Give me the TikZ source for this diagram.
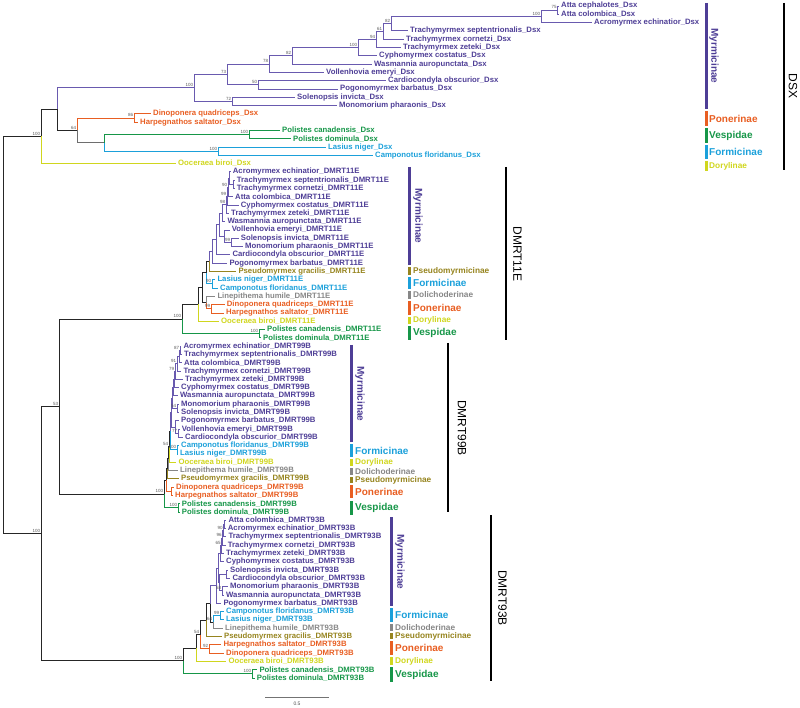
\documentclass[tikz,border=0pt]{standalone}
\usepackage{fontspec}
\setmainfont{Liberation Sans}
\definecolor{cMy}{RGB}{78,62,150}
\definecolor{cMyL}{RGB}{105,90,175}
\definecolor{cPo}{RGB}{232,94,34}
\definecolor{cVe}{RGB}{22,150,72}
\definecolor{cFo}{RGB}{27,160,218}
\definecolor{cDo}{RGB}{208,214,30}
\definecolor{cPs}{RGB}{150,132,30}
\definecolor{cDl}{RGB}{135,135,135}
\definecolor{cGr}{RGB}{110,110,110}
\newcommand\bsv[3]{\node[bs] (#1) at ([xshift=-0.7pt,yshift=0.9pt]#2) {#3};}
\begin{document}
\begin{tikzpicture}[x=1pt,y=-1pt,
  declare function={ty(\i)=6+\i*8.296;},
  br/.style={line width=0.9pt},
  eMy/.style={br,draw=cMyL}, ePo/.style={br,draw=cPo}, eVe/.style={br,draw=cVe},
  eFo/.style={br,draw=cFo}, eDo/.style={br,draw=cDo}, ePs/.style={br,draw=cPs},
  eDl/.style={br,draw=cDl}, eBk/.style={br,draw=black!85}, eGr/.style={br,draw=cGr},
  tip/.style={anchor=west,inner xsep=2pt,inner ysep=0pt,font=\fontsize{7.75}{8}\selectfont\bfseries},
  tMy/.style={tip,text=cMy}, tPo/.style={tip,text=cPo}, tVe/.style={tip,text=cVe},
  tFo/.style={tip,text=cFo}, tDo/.style={tip,text=cDo}, tPs/.style={tip,text=cPs},
  tDl/.style={tip,text=cDl},
  bs/.style={anchor=south east,inner sep=0pt,font=\fontsize{4.5}{5}\selectfont,text=black!65},
  legbar/.style={line width=3pt},
  bigbar/.style={line width=2.6pt,draw=black},
  legbig/.style={anchor=west,inner sep=0pt,font=\fontsize{10}{11}\selectfont\bfseries},
  legsmall/.style={anchor=west,inner sep=0pt,font=\fontsize{8.3}{9}\selectfont\bfseries},
  legrot/.style={rotate=-90,inner sep=0pt,font=\fontsize{10}{11}\selectfont\bfseries},
  generot/.style={rotate=-90,inner sep=0pt,font=\fontsize{12}{13}\selectfont}
]
\useasboundingbox (0,0) rectangle (800,708);

% ================= Dsx =================
\node[tMy] (d0) at (559,{ty(0)}) {Atta cephalotes\_Dsx};
\node[tMy] (d1) at (559,{ty(1)}) {Atta colombica\_Dsx};
\node[tMy] (d2) at (592,{ty(2)}) {Acromyrmex echinatior\_Dsx};
\node[tMy] (d3) at (408,{ty(3)}) {Trachymyrmex septentrionalis\_Dsx};
\node[tMy] (d4) at (404,{ty(4)}) {Trachymyrmex cornetzi\_Dsx};
\node[tMy] (d5) at (401,{ty(5)}) {Trachymyrmex zeteki\_Dsx};
\node[tMy] (d6) at (377,{ty(6)}) {Cyphomyrmex costatus\_Dsx};
\node[tMy] (d7) at (372,{ty(7)}) {Wasmannia auropunctata\_Dsx};
\node[tMy] (d8) at (324,{ty(8)}) {Vollenhovia emeryi\_Dsx};
\node[tMy] (d9) at (386,{ty(9)}) {Cardiocondyla obscurior\_Dsx};
\node[tMy] (d10) at (338,{ty(10)}) {Pogonomyrmex barbatus\_Dsx};
\node[tMy] (d11) at (295,{ty(11)}) {Solenopsis invicta\_Dsx};
\node[tMy] (d12) at (337,{ty(12)}) {Monomorium pharaonis\_Dsx};
\node[tPo] (d13) at (151,{ty(13)}) {Dinoponera quadriceps\_Dsx};
\node[tPo] (d14) at (138,{ty(14)}) {Harpegnathos saltator\_Dsx};
\node[tVe] (d15) at (280,{ty(15)}) {Polistes canadensis\_Dsx};
\node[tVe] (d16) at (291,{ty(16)}) {Polistes dominula\_Dsx};
\node[tFo] (d17) at (326,{ty(17)}) {Lasius niger\_Dsx};
\node[tFo] (d18) at (373,{ty(18)}) {Camponotus floridanus\_Dsx};
\node[tDo] (d19) at (176,{ty(19)}) {Ooceraea biroi\_Dsx};

\coordinate (N75) at (557.5,{ty(0.5)});
\coordinate (N100a) at (541,{ty(1.25)});
\coordinate (N82b) at (391,{ty(2.125)});
\coordinate (N61) at (383,{ty(3.0625)});
\coordinate (N94) at (376,{ty(4.031)});
\coordinate (N100b) at (358,{ty(5.016)});
\coordinate (N82) at (292,{ty(6.008)});
\coordinate (N78) at (269,{ty(7.004)});
\coordinate (N50) at (258,{ty(9.5)});
\coordinate (N73) at (227,{ty(8.252)});
\coordinate (N72) at (232,{ty(11.5)});
\coordinate (N100c) at (194,{ty(9.876)});
\coordinate (N86) at (134,{ty(13.5)});
\coordinate (N100d) at (249,{ty(15.5)});
\coordinate (N100e) at (218,{ty(17.5)});
\coordinate (Nvf) at (104,{ty(16.5)});
\coordinate (N64) at (77,{ty(15)});
\coordinate (Nd1) at (57,{ty(12.438)});
\coordinate (Nd0) at (41,{ty(15.719)});

\draw[eMy] (N75) |- (d0.west); \draw[eMy] (N75) |- (d1.west);
\draw[eMy] (N100a) |- (N75); \draw[eMy] (N100a) |- (d2.west);
\draw[eMy] (N82b) |- (N100a); \draw[eMy] (N82b) |- (d3.west);
\draw[eMy] (N61) |- (N82b); \draw[eMy] (N61) |- (d4.west);
\draw[eMy] (N94) |- (N61); \draw[eMy] (N94) |- (d5.west);
\draw[eMy] (N100b) |- (N94); \draw[eMy] (N100b) |- (d6.west);
\draw[eMy] (N82) |- (N100b); \draw[eMy] (N82) |- (d7.west);
\draw[eMy] (N78) |- (N82); \draw[eMy] (N78) |- (d8.west);
\draw[eMy] (N50) |- (d9.west); \draw[eMy] (N50) |- (d10.west);
\draw[eMy] (N73) |- (N78); \draw[eMy] (N73) |- (N50);
\draw[eMy] (N72) |- (d11.west); \draw[eMy] (N72) |- (d12.west);
\draw[eMy] (N100c) |- (N73); \draw[eMy] (N100c) |- (N72);
\draw[ePo] (N86) |- (d13.west); \draw[ePo] (N86) |- (d14.west);
\draw[eVe] (N100d) |- (d15.west); \draw[eVe] (N100d) |- (d16.west);
\draw[eFo] (N100e) |- (d17.west); \draw[eFo] (N100e) |- (d18.west);
\draw[eVe] (Nvf) |- (N100d); \draw[eFo] (Nvf) |- (N100e);
\draw[ePo] (N64) |- (N86); \draw[eGr] (N64) |- (Nvf);
\draw[eMy] (Nd1) |- (N100c); \draw[eBk] (Nd1) |- (N64);
\draw[eBk] (Nd0) |- (Nd1); \draw[eDo] (Nd0) |- (d19.west);

\bsv{b1}{N75}{75} \bsv{b2}{N100a}{100} \bsv{b3}{N82b}{82} \bsv{b4}{N61}{61}
\bsv{b5}{N94}{94} \bsv{b6}{N100b}{100} \bsv{b7}{N82}{82} \bsv{b8}{N78}{78}
\bsv{b9}{N50}{50} \bsv{b10}{N73}{73} \bsv{b11}{N72}{72} \bsv{b12}{N100c}{100}
\bsv{b13}{N86}{86} \bsv{b14}{N100d}{100} \bsv{b15}{N100e}{100} \bsv{b16}{N64}{64}
\bsv{b17}{Nd0}{100}

% ================= DMRT11E =================
\node[tMy] (d20) at (230.7,{ty(20)}) {Acromyrmex echinatior\_DMRT11E};
\node[tMy] (d21) at (234.7,{ty(21)}) {Trachymyrmex septentrionalis\_DMRT11E};
\node[tMy] (d22) at (234.7,{ty(22)}) {Trachymyrmex cornetzi\_DMRT11E};
\node[tMy] (d23) at (233,{ty(23)}) {Atta colombica\_DMRT11E};
\node[tMy] (d24) at (238.7,{ty(24)}) {Cyphomyrmex costatus\_DMRT11E};
\node[tMy] (d25) at (229,{ty(25)}) {Trachymyrmex zeteki\_DMRT11E};
\node[tMy] (d26) at (225.3,{ty(26)}) {Wasmannia auropunctata\_DMRT11E};
\node[tMy] (d27) at (229.7,{ty(27)}) {Vollenhovia emeryi\_DMRT11E};
\node[tMy] (d28) at (238.7,{ty(28)}) {Solenopsis invicta\_DMRT11E};
\node[tMy] (d29) at (243,{ty(29)}) {Monomorium pharaonis\_DMRT11E};
\node[tMy] (d30) at (230.3,{ty(30)}) {Cardiocondyla obscurior\_DMRT11E};
\node[tMy] (d31) at (227.3,{ty(31)}) {Pogonomyrmex barbatus\_DMRT11E};
\node[tPs] (d32) at (236.3,{ty(32)}) {Pseudomyrmex gracilis\_DMRT11E};
\node[tFo] (d33) at (215.3,{ty(33)}) {Lasius niger\_DMRT11E};
\node[tFo] (d34) at (218,{ty(34)}) {Camponotus floridanus\_DMRT11E};
\node[tDl] (d35) at (215.3,{ty(35)}) {Linepithema humile\_DMRT11E};
\node[tPo] (d36) at (224.7,{ty(36)}) {Dinoponera quadriceps\_DMRT11E};
\node[tPo] (d37) at (224,{ty(37)}) {Harpegnathos saltator\_DMRT11E};
\node[tDo] (d38) at (219,{ty(38)}) {Ooceraea biroi\_DMRT11E};
\node[tVe] (d39) at (265,{ty(39)}) {Polistes canadensis\_DMRT11E};
\node[tVe] (d40) at (261,{ty(40)}) {Polistes dominula\_DMRT11E};

\coordinate (m1) at (233,{ty(21.5)});
\coordinate (m2) at (229.5,{ty(20.75)});
\coordinate (m3) at (228,{ty(21.875)});
\coordinate (m4) at (227,{ty(22.9375)});
\coordinate (m5) at (226,{ty(23.969)});
\coordinate (m6) at (222,{ty(24.984)});
\coordinate (m7) at (231,{ty(28.5)});
\coordinate (m8) at (224,{ty(27.75)});
\coordinate (m9) at (219,{ty(26.367)});
\coordinate (m10) at (216,{ty(28.184)});
\coordinate (m11) at (212,{ty(29.592)});
\coordinate (m12) at (209,{ty(30.796)});
\coordinate (f1) at (212,{ty(33.5)});
\coordinate (m13) at (206,{ty(32.148)});
\coordinate (p1) at (211,{ty(36.5)});
\coordinate (p2) at (206,{ty(35.75)});
\coordinate (m14) at (202,{ty(33.949)});
\coordinate (m15) at (198,{ty(35.975)});
\coordinate (v1) at (259,{ty(39.5)});
\coordinate (R11) at (182,{ty(37.737)});

\draw[eMy] (m1) |- (d21.west); \draw[eMy] (m1) |- (d22.west);
\draw[eMy] (m2) |- (d20.west); \draw[eMy] (m2) |- (m1);
\draw[eMy] (m3) |- (m2); \draw[eMy] (m3) |- (d23.west);
\draw[eMy] (m4) |- (m3); \draw[eMy] (m4) |- (d24.west);
\draw[eMy] (m5) |- (m4); \draw[eMy] (m5) |- (d25.west);
\draw[eMy] (m6) |- (m5); \draw[eMy] (m6) |- (d26.west);
\draw[eMy] (m7) |- (d28.west); \draw[eMy] (m7) |- (d29.west);
\draw[eMy] (m8) |- (d27.west); \draw[eMy] (m8) |- (m7);
\draw[eMy] (m9) |- (m6); \draw[eMy] (m9) |- (m8);
\draw[eMy] (m10) |- (m9); \draw[eMy] (m10) |- (d30.west);
\draw[eMy] (m11) |- (m10); \draw[eMy] (m11) |- (d31.west);
\draw[eMy] (m12) |- (m11); \draw[ePs] (m12) |- (d32.west);
\draw[eFo] (f1) |- (d33.west); \draw[eFo] (f1) |- (d34.west);
\draw[eBk] (m13) |- (m12); \draw[eFo] (m13) |- (f1);
\draw[ePo] (p1) |- (d36.west); \draw[ePo] (p1) |- (d37.west);
\draw[eDl] (p2) |- (d35.west); \draw[ePo] (p2) |- (p1);
\draw[eBk] (m14) |- (m13); \draw[eBk] (m14) |- (p2);
\draw[eBk] (m15) |- (m14); \draw[eDo] (m15) |- (d38.west);
\draw[eVe] (v1) |- (d39.west); \draw[eVe] (v1) |- (d40.west);
\draw[eBk] (R11) |- (m15); \draw[eVe] (R11) |- (v1);

\bsv{b18}{m3}{90} \bsv{b19}{m4}{99} \bsv{b20}{m5}{98} \bsv{b21}{m7}{99}
\bsv{b22}{f1}{90} \bsv{b23}{p1}{99} \bsv{b24}{v1}{100} \bsv{b25}{R11}{100}

% ================= DMRT99B =================
\node[tMy] (d41) at (181.3,{ty(41)}) {Acromyrmex echinatior\_DMRT99B};
\node[tMy] (d42) at (182,{ty(42)}) {Trachymyrmex septentrionalis\_DMRT99B};
\node[tMy] (d43) at (182,{ty(43)}) {Atta colombica\_DMRT99B};
\node[tMy] (d44) at (181.3,{ty(44)}) {Trachymyrmex cornetzi\_DMRT99B};
\node[tMy] (d45) at (183,{ty(45)}) {Trachymyrmex zeteki\_DMRT99B};
\node[tMy] (d46) at (179,{ty(46)}) {Cyphomyrmex costatus\_DMRT99B};
\node[tMy] (d47) at (178,{ty(47)}) {Wasmannia auropunctata\_DMRT99B};
\node[tMy] (d48) at (179,{ty(48)}) {Monomorium pharaonis\_DMRT99B};
\node[tMy] (d49) at (179,{ty(49)}) {Solenopsis invicta\_DMRT99B};
\node[tMy] (d50) at (179,{ty(50)}) {Pogonomyrmex barbatus\_DMRT99B};
\node[tMy] (d51) at (179.7,{ty(51)}) {Vollenhovia emeryi\_DMRT99B};
\node[tMy] (d52) at (183,{ty(52)}) {Cardiocondyla obscurior\_DMRT99B};
\node[tFo] (d53) at (179,{ty(53)}) {Camponotus floridanus\_DMRT99B};
\node[tFo] (d54) at (178,{ty(54)}) {Lasius niger\_DMRT99B};
\node[tDo] (d55) at (176.3,{ty(55)}) {Ooceraea biroi\_DMRT99B};
\node[tDl] (d56) at (178,{ty(56)}) {Linepithema humile\_DMRT99B};
\node[tPs] (d57) at (179,{ty(57)}) {Pseudomyrmex gracilis\_DMRT99B};
\node[tPo] (d58) at (174,{ty(58)}) {Dinoponera quadriceps\_DMRT99B};
\node[tPo] (d59) at (173,{ty(59)}) {Harpegnathos saltator\_DMRT99B};
\node[tVe] (d60) at (179.7,{ty(60)}) {Polistes canadensis\_DMRT99B};
\node[tVe] (d61) at (179.7,{ty(61)}) {Polistes dominula\_DMRT99B};

\coordinate (q1) at (180,{ty(41.5)});
\coordinate (q2) at (179,{ty(42.25)});
\coordinate (q3) at (177,{ty(43.125)});
\coordinate (q4) at (175,{ty(44.0625)});
\coordinate (q5) at (174,{ty(45.031)});
\coordinate (q6) at (173,{ty(46.016)});
\coordinate (q7) at (177,{ty(48.5)});
\coordinate (q8) at (172,{ty(47.258)});
\coordinate (q9) at (178,{ty(51.5)});
\coordinate (q10) at (175,{ty(50.75)});
\coordinate (q11) at (171,{ty(49.004)});
\coordinate (c1) at (177,{ty(53.5)});
\coordinate (q12) at (170,{ty(51.252)});
\coordinate (q13) at (169,{ty(53.126)});
\coordinate (q14) at (168,{ty(54.563)});
\coordinate (q15) at (167,{ty(55.782)});
\coordinate (p3) at (171.5,{ty(58.5)});
\coordinate (q16) at (166,{ty(57.141)});
\coordinate (v2) at (178,{ty(60.5)});
\coordinate (R99) at (164,{ty(58.82)});

\draw[eMy] (q1) |- (d41.west); \draw[eMy] (q1) |- (d42.west);
\draw[eMy] (q2) |- (q1); \draw[eMy] (q2) |- (d43.west);
\draw[eMy] (q3) |- (q2); \draw[eMy] (q3) |- (d44.west);
\draw[eMy] (q4) |- (q3); \draw[eMy] (q4) |- (d45.west);
\draw[eMy] (q5) |- (q4); \draw[eMy] (q5) |- (d46.west);
\draw[eMy] (q6) |- (q5); \draw[eMy] (q6) |- (d47.west);
\draw[eMy] (q7) |- (d48.west); \draw[eMy] (q7) |- (d49.west);
\draw[eMy] (q8) |- (q6); \draw[eMy] (q8) |- (q7);
\draw[eMy] (q9) |- (d51.west); \draw[eMy] (q9) |- (d52.west);
\draw[eMy] (q10) |- (d50.west); \draw[eMy] (q10) |- (q9);
\draw[eMy] (q11) |- (q8); \draw[eMy] (q11) |- (q10);
\draw[eFo] (c1) |- (d53.west); \draw[eFo] (c1) |- (d54.west);
\draw[eMy] (q12) |- (q11); \draw[eFo] (q12) |- (c1);
\draw[eBk] (q13) |- (q12); \draw[eDo] (q13) |- (d55.west);
\draw[eBk] (q14) |- (q13); \draw[eDl] (q14) |- (d56.west);
\draw[eBk] (q15) |- (q14); \draw[ePs] (q15) |- (d57.west);
\draw[ePo] (p3) |- (d58.west); \draw[ePo] (p3) |- (d59.west);
\draw[eBk] (q16) |- (q15); \draw[ePo] (q16) |- (p3);
\draw[eVe] (v2) |- (d60.west); \draw[eVe] (v2) |- (d61.west);
\draw[eBk] (R99) |- (q16); \draw[eVe] (R99) |- (v2);

\bsv{b26}{q1}{87} \bsv{b27}{q3}{91} \bsv{b28}{q4}{79} \bsv{b29}{q7}{54}
\bsv{b30}{q9}{77} \bsv{b31}{c1}{100} \bsv{b32}{q13}{54} \bsv{b33}{R99}{100}
\bsv{b34}{v2}{100}

% ================= DMRT93B =================
\node[tMy] (d62) at (226.3,{ty(62)}) {Atta colombica\_DMRT93B};
\node[tMy] (d63) at (225.7,{ty(63)}) {Acromyrmex echinatior\_DMRT93B};
\node[tMy] (d64) at (226.3,{ty(64)}) {Trachymyrmex septentrionalis\_DMRT93B};
\node[tMy] (d65) at (225.7,{ty(65)}) {Trachymyrmex cornetzi\_DMRT93B};
\node[tMy] (d66) at (224,{ty(66)}) {Trachymyrmex zeteki\_DMRT93B};
\node[tMy] (d67) at (224,{ty(67)}) {Cyphomyrmex costatus\_DMRT93B};
\node[tMy] (d68) at (228,{ty(68)}) {Solenopsis invicta\_DMRT93B};
\node[tMy] (d69) at (230.3,{ty(69)}) {Cardiocondyla obscurior\_DMRT93B};
\node[tMy] (d70) at (228,{ty(70)}) {Monomorium pharaonis\_DMRT93B};
\node[tMy] (d71) at (224,{ty(71)}) {Wasmannia auropunctata\_DMRT93B};
\node[tMy] (d72) at (221.3,{ty(72)}) {Pogonomyrmex barbatus\_DMRT93B};
\node[tFo] (d73) at (224,{ty(73)}) {Camponotus floridanus\_DMRT93B};
\node[tFo] (d74) at (224,{ty(74)}) {Lasius niger\_DMRT93B};
\node[tDl] (d75) at (223,{ty(75)}) {Linepithema humile\_DMRT93B};
\node[tPs] (d76) at (222,{ty(76)}) {Pseudomyrmex gracilis\_DMRT93B};
\node[tPo] (d77) at (221.3,{ty(77)}) {Harpegnathos saltator\_DMRT93B};
\node[tPo] (d78) at (224,{ty(78)}) {Dinoponera quadriceps\_DMRT93B};
\node[tDo] (d79) at (226.3,{ty(79)}) {Ooceraea biroi\_DMRT93B};
\node[tVe] (d80) at (257.3,{ty(80)}) {Polistes canadensis\_DMRT93B};
\node[tVe] (d81) at (254.7,{ty(81)}) {Polistes dominula\_DMRT93B};

\coordinate (s1) at (224.5,{ty(62.5)});
\coordinate (s2) at (223.5,{ty(63.25)});
\coordinate (s3) at (222.5,{ty(64.125)});
\coordinate (s4) at (221.5,{ty(65.0625)});
\coordinate (s5) at (220.5,{ty(66.031)});
\coordinate (s6) at (226,{ty(68.5)});
\coordinate (s7) at (222,{ty(70.5)});
\coordinate (s8) at (219.5,{ty(69.5)});
\coordinate (s9) at (218,{ty(67.766)});
\coordinate (s10) at (216.5,{ty(69.883)});
\coordinate (f3) at (220,{ty(73.5)});
\coordinate (s11) at (213,{ty(74.25)});
\coordinate (s12) at (210,{ty(72.066)});
\coordinate (s13) at (206,{ty(74.033)});
\coordinate (p4) at (209,{ty(77.5)});
\coordinate (s14) at (200,{ty(75.767)});
\coordinate (s15) at (196,{ty(77.383)});
\coordinate (v3) at (252,{ty(80.5)});
\coordinate (R93) at (183,{ty(78.942)});

\draw[eMy] (s1) |- (d62.west); \draw[eMy] (s1) |- (d63.west);
\draw[eMy] (s2) |- (s1); \draw[eMy] (s2) |- (d64.west);
\draw[eMy] (s3) |- (s2); \draw[eMy] (s3) |- (d65.west);
\draw[eMy] (s4) |- (s3); \draw[eMy] (s4) |- (d66.west);
\draw[eMy] (s5) |- (s4); \draw[eMy] (s5) |- (d67.west);
\draw[eMy] (s6) |- (d68.west); \draw[eMy] (s6) |- (d69.west);
\draw[eMy] (s7) |- (d70.west); \draw[eMy] (s7) |- (d71.west);
\draw[eMy] (s8) |- (s6); \draw[eMy] (s8) |- (s7);
\draw[eMy] (s9) |- (s5); \draw[eMy] (s9) |- (s8);
\draw[eMy] (s10) |- (s9); \draw[eMy] (s10) |- (d72.west);
\draw[eFo] (f3) |- (d73.west); \draw[eFo] (f3) |- (d74.west);
\draw[eFo] (s11) |- (f3); \draw[eDl] (s11) |- (d75.west);
\draw[eMy] (s12) |- (s10); \draw[eBk] (s12) |- (s11);
\draw[eBk] (s13) |- (s12); \draw[ePs] (s13) |- (d76.west);
\draw[ePo] (p4) |- (d77.west); \draw[ePo] (p4) |- (d78.west);
\draw[eBk] (s14) |- (s13); \draw[ePo] (s14) |- (p4);
\draw[eBk] (s15) |- (s14); \draw[eDo] (s15) |- (d79.west);
\draw[eVe] (v3) |- (d80.west); \draw[eVe] (v3) |- (d81.west);
\draw[eBk] (R93) |- (s15); \draw[eVe] (R93) |- (v3);

\bsv{b35}{s2}{90} \bsv{b36}{s3}{96} \bsv{b37}{s4}{65} \bsv{b38}{s7}{58}
\bsv{b39}{f3}{99} \bsv{b40}{s11}{64} \bsv{b41}{s14}{54} \bsv{b42}{p4}{92}
\bsv{b43}{R93}{100} \bsv{b44}{v3}{100}

% ================= backbone =================
\coordinate (N53) at (59,{ty(48.279)});
\coordinate (NR2) at (41,{ty(63.61)});
\coordinate (Root) at (3,{ty(39.66)});
\draw[eBk] (N53) |- (R11); \draw[eBk] (N53) |- (R99);
\draw[eBk] (NR2) |- (N53); \draw[eBk] (NR2) |- (R93);
\draw[eBk] (Root) |- (Nd0); \draw[eBk] (Root) |- (NR2);
\bsv{b45}{N53}{53} \bsv{b46}{NR2}{100}

% ================= legend: Dsx =================
\draw[legbar,cMy] (706,3) -- (706,109);
\draw[legbar,cPo] (706,111) -- (706,126);
\draw[legbar,cVe] (706,128) -- (706,143);
\draw[legbar,cFo] (706,145) -- (706,159);
\draw[legbar,cDo] (706,161) -- (706,171);
\node[legrot,text=cMy] (lA1) at (714,56) {Myrmicinae};
\node[legbig,text=cPo] (lA2) at (709,118.5) {Ponerinae};
\node[legbig,text=cVe] (lA3) at (709,135.5) {Vespidae};
\node[legbig,text=cFo] (lA4) at (709,152) {Formicinae};
\node[legsmall,text=cDo] (lA5) at (709,166) {Dorylinae};
\draw[bigbar] (784,3) -- (784,170);
\node[generot] (gA) at (793,86) {DSX};

% ================= legend: DMRT11E =================
\draw[legbar,cMy] (409,167) -- (409,265);
\draw[legbar,cPs] (409,267) -- (409,275);
\draw[legbar,cFo] (409,277) -- (409,289);
\draw[legbar,cDl] (409,291) -- (409,299);
\draw[legbar,cPo] (409,301) -- (409,315);
\draw[legbar,cDo] (409,317) -- (409,324);
\draw[legbar,cVe] (409,326) -- (409,340);
\node[legrot,text=cMy] (lB1) at (418,216) {Myrmicinae};
\node[legsmall,text=cPs] (lB2) at (413,271) {Pseudomyrmicinae};
\node[legbig,text=cFo] (lB3) at (413,283) {Formicinae};
\node[legsmall,text=cDl] (lB4) at (413,295) {Dolichoderinae};
\node[legbig,text=cPo] (lB5) at (413,308) {Ponerinae};
\node[legsmall,text=cDo] (lB6) at (413,320.5) {Dorylinae};
\node[legbig,text=cVe] (lB7) at (413,333) {Vespidae};
\draw[bigbar] (506,167) -- (506,340);
\node[generot] (gB) at (517.5,254) {DMRT11E};

% ================= legend: DMRT99B =================
\draw[legbar,cMy] (351,345) -- (351,442);
\draw[legbar,cFo] (351,444) -- (351,457);
\draw[legbar,cDo] (351,459) -- (351,466);
\draw[legbar,cDl] (351,468) -- (351,475);
\draw[legbar,cPs] (351,477) -- (351,483);
\draw[legbar,cPo] (351,485) -- (351,498);
\draw[legbar,cVe] (351,501) -- (351,515);
\node[legrot,text=cMy] (lC1) at (360,394) {Myrmicinae};
\node[legbig,text=cFo] (lC2) at (355,450.5) {Formicinae};
\node[legsmall,text=cDo] (lC3) at (355,462.5) {Dorylinae};
\node[legsmall,text=cDl] (lC4) at (355,471.5) {Dolichoderinae};
\node[legsmall,text=cPs] (lC5) at (355,480) {Pseudomyrmicinae};
\node[legbig,text=cPo] (lC6) at (355,491.5) {Ponerinae};
\node[legbig,text=cVe] (lC7) at (355,508) {Vespidae};
\draw[bigbar] (448,343) -- (448,512);
\node[generot] (gC) at (462,428) {DMRT99B};

% ================= legend: DMRT93B =================
\draw[legbar,cMy] (391,517) -- (391,606);
\draw[legbar,cFo] (391,608) -- (391,622);
\draw[legbar,cDl] (391,624) -- (391,631);
\draw[legbar,cPs] (391,633) -- (391,639);
\draw[legbar,cPo] (391,641) -- (391,655);
\draw[legbar,cDo] (391,657) -- (391,665);
\draw[legbar,cVe] (391,667) -- (391,682);
\node[legrot,text=cMy] (lD1) at (400,562) {Myrmicinae};
\node[legbig,text=cFo] (lD2) at (395,615) {Formicinae};
\node[legsmall,text=cDl] (lD3) at (395,627.5) {Dolichoderinae};
\node[legsmall,text=cPs] (lD4) at (395,636) {Pseudomyrmicinae};
\node[legbig,text=cPo] (lD5) at (395,648) {Ponerinae};
\node[legsmall,text=cDo] (lD6) at (395,661) {Dorylinae};
\node[legbig,text=cVe] (lD7) at (395,674.5) {Vespidae};
\draw[bigbar] (491,515) -- (491,681);
\node[generot] (gD) at (502.5,598) {DMRT93B};

% ================= scale bar =================
\coordinate (sbA) at (265,697);
\coordinate (sbB) at (329,697);
\draw[line width=1pt,draw=black!55] (sbA) -- (sbB);
\node[inner sep=0pt,font=\fontsize{5}{6}\selectfont,text=black!70] (sbL) at (297,704) {0.5};
\end{tikzpicture}
\end{document}
